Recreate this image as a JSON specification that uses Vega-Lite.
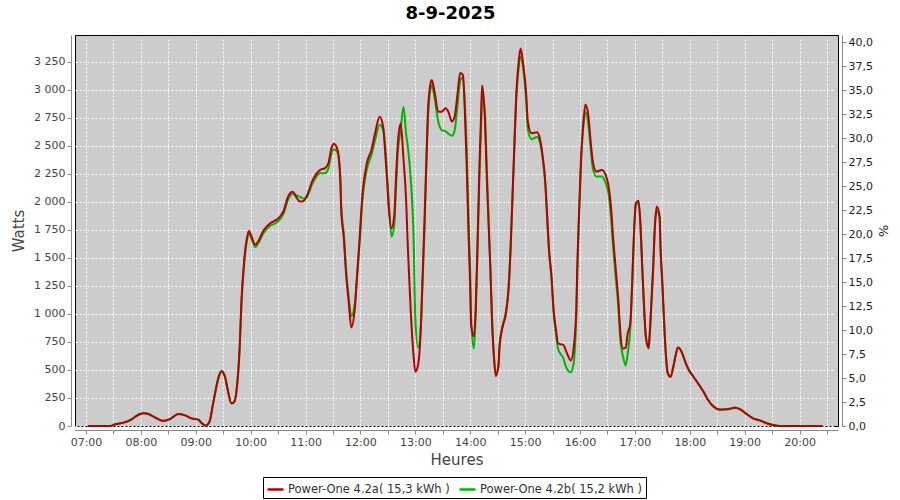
{
  "$schema": "https://vega.github.io/schema/vega-lite/v6.json",
  "autosize": {"type": "none"},
  "width": 763,
  "height": 391,
  "padding": {"left": 75, "top": 35, "right": 62, "bottom": 74},
  "background": "white",
  "title": {"text": "8-9-2025", "font": "DejaVu Sans", "fontSize": 18, "fontWeight": "bold", "color": "black", "anchor": "middle", "offset": 12, "dx": -6},
  "config": {
    "view": {"fill": "#cccccc", "stroke": "black", "strokeWidth": 1},
    "axis": {"labelFont": "DejaVu Sans", "titleFont": "DejaVu Sans", "labelFontSize": 11, "titleFontSize": 15, "titleFontWeight": "normal", "labelColor": "#444", "titleColor": "#444", "domainColor": "#888", "tickColor": "#888", "tickSize": 4, "gridColor": "white", "gridDash": [2, 2], "gridOpacity": 1, "gridWidth": 1, "offset": 4},
    "legend": {"labelFont": "DejaVu Sans", "labelFontSize": 11.5, "labelColor": "#333"}
  },
  "data": {"values": [
    {"t":"2025-09-08T07:02","a":0,"b":0},
    {"t":"2025-09-08T07:26","a":0,"b":0},
    {"t":"2025-09-08T07:32","a":15,"b":15},
    {"t":"2025-09-08T07:41","a":30,"b":30},
    {"t":"2025-09-08T07:50","a":60,"b":62},
    {"t":"2025-09-08T07:55","a":89,"b":92},
    {"t":"2025-09-08T08:03","a":113,"b":116},
    {"t":"2025-09-08T08:08","a":107,"b":110},
    {"t":"2025-09-08T08:15","a":77,"b":80},
    {"t":"2025-09-08T08:24","a":45,"b":47},
    {"t":"2025-09-08T08:32","a":62,"b":64},
    {"t":"2025-09-08T08:41","a":107,"b":108},
    {"t":"2025-09-08T08:48","a":95,"b":97},
    {"t":"2025-09-08T08:55","a":68,"b":70},
    {"t":"2025-09-08T09:03","a":54,"b":56},
    {"t":"2025-09-08T09:06","a":30,"b":32},
    {"t":"2025-09-08T09:11","a":3,"b":5},
    {"t":"2025-09-08T09:15","a":39,"b":40},
    {"t":"2025-09-08T09:19","a":203,"b":200},
    {"t":"2025-09-08T09:25","a":440,"b":430},
    {"t":"2025-09-08T09:28","a":491,"b":485},
    {"t":"2025-09-08T09:32","a":440,"b":435},
    {"t":"2025-09-08T09:35","a":321,"b":318},
    {"t":"2025-09-08T09:39","a":203,"b":200},
    {"t":"2025-09-08T09:42","a":214,"b":212},
    {"t":"2025-09-08T09:45","a":351,"b":345},
    {"t":"2025-09-08T09:48","a":708,"b":690},
    {"t":"2025-09-08T09:50","a":1125,"b":1100},
    {"t":"2025-09-08T09:53","a":1482,"b":1460},
    {"t":"2025-09-08T09:56","a":1680,"b":1660},
    {"t":"2025-09-08T09:58","a":1741,"b":1725},
    {"t":"2025-09-08T10:01","a":1690,"b":1670},
    {"t":"2025-09-08T10:05","a":1618,"b":1598},
    {"t":"2025-09-08T10:08","a":1645,"b":1625},
    {"t":"2025-09-08T10:14","a":1745,"b":1720},
    {"t":"2025-09-08T10:21","a":1808,"b":1785},
    {"t":"2025-09-08T10:28","a":1840,"b":1815},
    {"t":"2025-09-08T10:36","a":1920,"b":1895},
    {"t":"2025-09-08T10:41","a":2050,"b":2020},
    {"t":"2025-09-08T10:46","a":2090,"b":2070},
    {"t":"2025-09-08T10:50","a":2040,"b":2060},
    {"t":"2025-09-08T10:54","a":2003,"b":2045},
    {"t":"2025-09-08T10:58","a":2010,"b":2030},
    {"t":"2025-09-08T11:01","a":2048,"b":2040},
    {"t":"2025-09-08T11:08","a":2197,"b":2170},
    {"t":"2025-09-08T11:16","a":2286,"b":2255},
    {"t":"2025-09-08T11:21","a":2300,"b":2255},
    {"t":"2025-09-08T11:25","a":2345,"b":2300},
    {"t":"2025-09-08T11:28","a":2470,"b":2420},
    {"t":"2025-09-08T11:31","a":2520,"b":2470},
    {"t":"2025-09-08T11:35","a":2464,"b":2440},
    {"t":"2025-09-08T11:38","a":2197,"b":2220},
    {"t":"2025-09-08T11:39","a":1929,"b":1960},
    {"t":"2025-09-08T11:42","a":1661,"b":1700},
    {"t":"2025-09-08T11:44","a":1393,"b":1430},
    {"t":"2025-09-08T11:47","a":1125,"b":1160},
    {"t":"2025-09-08T11:50","a":880,"b":980},
    {"t":"2025-09-08T11:54","a":1065,"b":1100},
    {"t":"2025-09-08T11:56","a":1304,"b":1300},
    {"t":"2025-09-08T11:59","a":1661,"b":1620},
    {"t":"2025-09-08T12:02","a":2048,"b":2000},
    {"t":"2025-09-08T12:07","a":2345,"b":2290},
    {"t":"2025-09-08T12:12","a":2464,"b":2420},
    {"t":"2025-09-08T12:16","a":2613,"b":2550},
    {"t":"2025-09-08T12:21","a":2760,"b":2690},
    {"t":"2025-09-08T12:25","a":2660,"b":2640},
    {"t":"2025-09-08T12:27","a":2450,"b":2500},
    {"t":"2025-09-08T12:29","a":2212,"b":2260},
    {"t":"2025-09-08T12:31","a":1944,"b":1990},
    {"t":"2025-09-08T12:34","a":1765,"b":1690},
    {"t":"2025-09-08T12:37","a":1884,"b":1800},
    {"t":"2025-09-08T12:39","a":2241,"b":2150},
    {"t":"2025-09-08T12:41","a":2539,"b":2450},
    {"t":"2025-09-08T12:44","a":2700,"b":2650},
    {"t":"2025-09-08T12:47","a":2390,"b":2850},
    {"t":"2025-09-08T12:50","a":2003,"b":2600},
    {"t":"2025-09-08T12:52","a":1556,"b":2480},
    {"t":"2025-09-08T12:55","a":1020,"b":2200},
    {"t":"2025-09-08T12:58","a":634,"b":1705},
    {"t":"2025-09-08T13:00","a":485,"b":962},
    {"t":"2025-09-08T13:03","a":545,"b":700},
    {"t":"2025-09-08T13:06","a":872,"b":880},
    {"t":"2025-09-08T13:08","a":1348,"b":1300},
    {"t":"2025-09-08T13:10","a":1824,"b":1750},
    {"t":"2025-09-08T13:12","a":2360,"b":2300},
    {"t":"2025-09-08T13:14","a":2837,"b":2780},
    {"t":"2025-09-08T13:16","a":3030,"b":2980},
    {"t":"2025-09-08T13:18","a":3089,"b":3040},
    {"t":"2025-09-08T13:21","a":2985,"b":2930},
    {"t":"2025-09-08T13:25","a":2806,"b":2720},
    {"t":"2025-09-08T13:29","a":2806,"b":2640},
    {"t":"2025-09-08T13:33","a":2837,"b":2630},
    {"t":"2025-09-08T13:36","a":2806,"b":2610},
    {"t":"2025-09-08T13:40","a":2717,"b":2590},
    {"t":"2025-09-08T13:43","a":2762,"b":2640},
    {"t":"2025-09-08T13:46","a":2956,"b":2850},
    {"t":"2025-09-08T13:49","a":3150,"b":3080},
    {"t":"2025-09-08T13:52","a":3134,"b":3110},
    {"t":"2025-09-08T13:54","a":2837,"b":2900},
    {"t":"2025-09-08T13:56","a":2360,"b":2500},
    {"t":"2025-09-08T13:58","a":1765,"b":1900},
    {"t":"2025-09-08T14:00","a":1230,"b":1350},
    {"t":"2025-09-08T14:01","a":902,"b":950},
    {"t":"2025-09-08T14:04","a":800,"b":690},
    {"t":"2025-09-08T14:06","a":1051,"b":1000},
    {"t":"2025-09-08T14:08","a":1646,"b":1550},
    {"t":"2025-09-08T14:10","a":2301,"b":2200},
    {"t":"2025-09-08T14:12","a":2806,"b":2700},
    {"t":"2025-09-08T14:13","a":3040,"b":2950},
    {"t":"2025-09-08T14:16","a":2747,"b":2800},
    {"t":"2025-09-08T14:18","a":2241,"b":2350},
    {"t":"2025-09-08T14:20","a":1824,"b":1850},
    {"t":"2025-09-08T14:22","a":1408,"b":1420},
    {"t":"2025-09-08T14:24","a":902,"b":930},
    {"t":"2025-09-08T14:26","a":604,"b":620},
    {"t":"2025-09-08T14:28","a":445,"b":460},
    {"t":"2025-09-08T14:31","a":545,"b":555},
    {"t":"2025-09-08T14:32","a":700,"b":720},
    {"t":"2025-09-08T14:35","a":872,"b":880},
    {"t":"2025-09-08T14:39","a":1000,"b":1020},
    {"t":"2025-09-08T14:42","a":1230,"b":1250},
    {"t":"2025-09-08T14:44","a":1556,"b":1570},
    {"t":"2025-09-08T14:46","a":2003,"b":2000},
    {"t":"2025-09-08T14:48","a":2450,"b":2430},
    {"t":"2025-09-08T14:50","a":2896,"b":2860},
    {"t":"2025-09-08T14:53","a":3253,"b":3200},
    {"t":"2025-09-08T14:55","a":3370,"b":3300},
    {"t":"2025-09-08T14:58","a":3223,"b":3180},
    {"t":"2025-09-08T15:01","a":2985,"b":2930},
    {"t":"2025-09-08T15:03","a":2717,"b":2650},
    {"t":"2025-09-08T15:07","a":2613,"b":2560},
    {"t":"2025-09-08T15:13","a":2622,"b":2580},
    {"t":"2025-09-08T15:16","a":2569,"b":2540},
    {"t":"2025-09-08T15:19","a":2420,"b":2400},
    {"t":"2025-09-08T15:22","a":2182,"b":2170},
    {"t":"2025-09-08T15:24","a":1884,"b":1880},
    {"t":"2025-09-08T15:26","a":1587,"b":1580},
    {"t":"2025-09-08T15:29","a":1319,"b":1300},
    {"t":"2025-09-08T15:31","a":1051,"b":1030},
    {"t":"2025-09-08T15:34","a":842,"b":800},
    {"t":"2025-09-08T15:36","a":738,"b":690},
    {"t":"2025-09-08T15:42","a":723,"b":600},
    {"t":"2025-09-08T15:45","a":664,"b":520},
    {"t":"2025-09-08T15:50","a":585,"b":480},
    {"t":"2025-09-08T15:53","a":694,"b":560},
    {"t":"2025-09-08T15:56","a":1051,"b":1000},
    {"t":"2025-09-08T15:57","a":1408,"b":1380},
    {"t":"2025-09-08T15:59","a":1914,"b":1880},
    {"t":"2025-09-08T16:01","a":2360,"b":2320},
    {"t":"2025-09-08T16:04","a":2747,"b":2700},
    {"t":"2025-09-08T16:06","a":2870,"b":2800},
    {"t":"2025-09-08T16:09","a":2777,"b":2700},
    {"t":"2025-09-08T16:12","a":2509,"b":2450},
    {"t":"2025-09-08T16:14","a":2360,"b":2300},
    {"t":"2025-09-08T16:18","a":2271,"b":2227},
    {"t":"2025-09-08T16:24","a":2286,"b":2227},
    {"t":"2025-09-08T16:28","a":2241,"b":2170},
    {"t":"2025-09-08T16:31","a":2152,"b":2080},
    {"t":"2025-09-08T16:34","a":1944,"b":1850},
    {"t":"2025-09-08T16:36","a":1705,"b":1620},
    {"t":"2025-09-08T16:39","a":1408,"b":1330},
    {"t":"2025-09-08T16:42","a":1110,"b":1050},
    {"t":"2025-09-08T16:44","a":842,"b":780},
    {"t":"2025-09-08T16:47","a":690,"b":620},
    {"t":"2025-09-08T16:50","a":700,"b":540},
    {"t":"2025-09-08T16:52","a":820,"b":640},
    {"t":"2025-09-08T16:55","a":917,"b":880},
    {"t":"2025-09-08T16:57","a":1274,"b":1250},
    {"t":"2025-09-08T16:59","a":1720,"b":1700},
    {"t":"2025-09-08T17:01","a":1988,"b":1970},
    {"t":"2025-09-08T17:04","a":2010,"b":1990},
    {"t":"2025-09-08T17:06","a":1810,"b":1800},
    {"t":"2025-09-08T17:08","a":1422,"b":1420},
    {"t":"2025-09-08T17:10","a":1065,"b":1060},
    {"t":"2025-09-08T17:12","a":797,"b":790},
    {"t":"2025-09-08T17:15","a":700,"b":690},
    {"t":"2025-09-08T17:16","a":797,"b":790},
    {"t":"2025-09-08T17:18","a":1096,"b":1090},
    {"t":"2025-09-08T17:20","a":1422,"b":1410},
    {"t":"2025-09-08T17:22","a":1810,"b":1800},
    {"t":"2025-09-08T17:24","a":1960,"b":1920},
    {"t":"2025-09-08T17:27","a":1869,"b":1860},
    {"t":"2025-09-08T17:28","a":1601,"b":1590},
    {"t":"2025-09-08T17:30","a":1274,"b":1270},
    {"t":"2025-09-08T17:32","a":917,"b":915},
    {"t":"2025-09-08T17:34","a":619,"b":615},
    {"t":"2025-09-08T17:36","a":470,"b":465},
    {"t":"2025-09-08T17:39","a":440,"b":438},
    {"t":"2025-09-08T17:42","a":529,"b":527},
    {"t":"2025-09-08T17:45","a":649,"b":647},
    {"t":"2025-09-08T17:47","a":700,"b":698},
    {"t":"2025-09-08T17:51","a":664,"b":662},
    {"t":"2025-09-08T17:55","a":574,"b":572},
    {"t":"2025-09-08T17:58","a":515,"b":513},
    {"t":"2025-09-08T18:04","a":440,"b":440},
    {"t":"2025-09-08T18:09","a":381,"b":381},
    {"t":"2025-09-08T18:15","a":306,"b":306},
    {"t":"2025-09-08T18:20","a":232,"b":232},
    {"t":"2025-09-08T18:26","a":172,"b":175},
    {"t":"2025-09-08T18:33","a":146,"b":148},
    {"t":"2025-09-08T18:42","a":149,"b":152},
    {"t":"2025-09-08T18:49","a":162,"b":165},
    {"t":"2025-09-08T18:55","a":149,"b":150},
    {"t":"2025-09-08T19:02","a":107,"b":108},
    {"t":"2025-09-08T19:09","a":68,"b":70},
    {"t":"2025-09-08T19:17","a":48,"b":50},
    {"t":"2025-09-08T19:24","a":24,"b":26},
    {"t":"2025-09-08T19:31","a":9,"b":10},
    {"t":"2025-09-08T19:38","a":0,"b":0},
    {"t":"2025-09-08T20:25","a":0,"b":0}
  ]},
  "layer": [
    {
      "transform": [{"fold": ["b", "a"], "as": ["serie", "w"]}],
      "mark": {"type": "line", "strokeWidth": 2, "interpolate": "monotone"},
      "encoding": {
        "x": {"field": "t", "type": "temporal",
          "scale": {"domain": [{"year": 2025, "month": 9, "date": 8, "hours": 6, "minutes": 48}, {"year": 2025, "month": 9, "date": 8, "hours": 20, "minutes": 42}]},
          "axis": {"title": "Heures", "format": "%H:%M", "labelFlush": false, "labelPadding": 2, "titlePadding": 5}},
        "y": {"field": "w", "type": "quantitative", "scale": {"domain": [0, 3490], "nice": false},
          "axis": {"title": "Watts", "values": [0,250,500,750,1000,1250,1500,1750,2000,2250,2500,2750,3000,3250], "labelExpr": "replace(format(datum.value, ','), ',', ' ')", "titlePadding": 7}},
        "color": {"field": "serie", "type": "nominal",
          "scale": {"domain": ["a", "b"], "range": ["#b40000", "#00b400"]},
          "legend": {"title": null, "orient": "none", "legendX": 188, "legendY": 442, "direction": "horizontal", "symbolType": "stroke", "symbolStrokeWidth": 2.5, "symbolSize": 256, "strokeColor": "black", "padding": 3, "columnPadding": 4, "labelOffset": 3, "labelLimit": 300,
            "labelExpr": "datum.label == 'a' ? 'Power-One 4.2a( 15,3 kWh )' : 'Power-One 4.2b( 15,2 kWh )'"}},
        "order": {"field": "serie", "sort": "descending"}
      }
    },
    {
      "data": {"values": [{"pct": 0}, {"pct": 40}]},
      "mark": {"type": "rule", "strokeOpacity": 0},
      "encoding": {
        "y": {"field": "pct", "type": "quantitative", "scale": {"domain": [0, 40.73], "nice": false},
          "axis": {"orient": "right", "title": "%", "grid": false, "labelColor": "#222", "titleColor": "#222", "titleFontSize": 13, "values": [0,2.5,5,7.5,10,12.5,15,17.5,20,22.5,25,27.5,30,32.5,35,37.5,40], "labelExpr": "replace(format(datum.value, '.1f'), '.', ',')", "titlePadding": 3}}
      }
    }
  ],
  "resolve": {"scale": {"y": "independent"}}
}
